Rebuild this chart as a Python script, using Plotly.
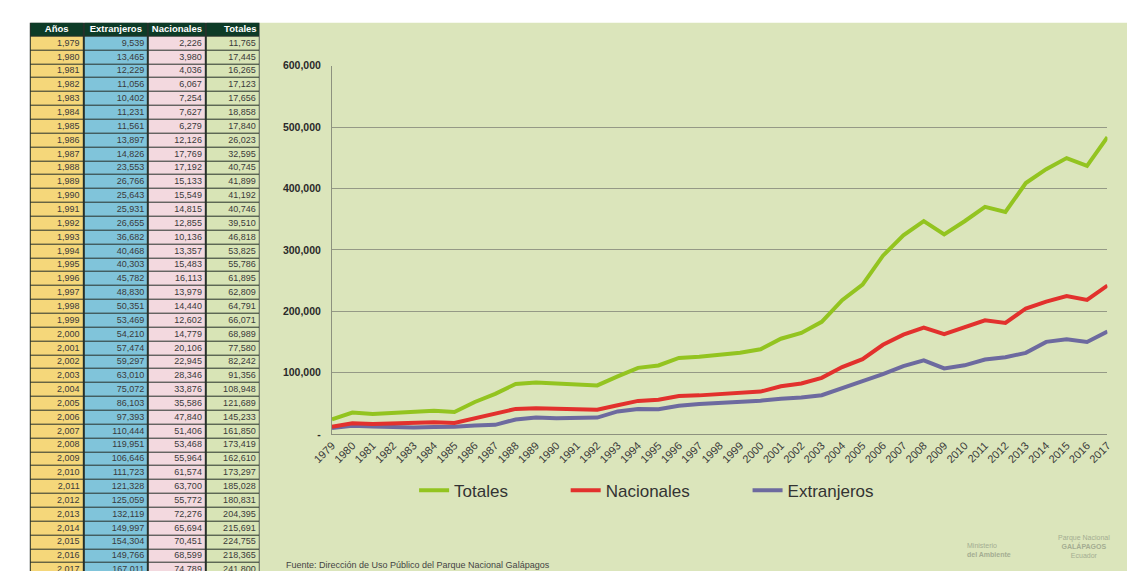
import plotly.graph_objects as go

years = list(range(1979, 2018))
extranjeros = [9539, 13465, 12229, 11056, 10402, 11231, 11561, 13897, 14826, 23553,
               26766, 25643, 25931, 26655, 36682, 40468, 40303, 45782, 48830, 50351,
               53469, 54210, 57474, 59297, 63010, 75072, 86103, 97393, 110444, 119951,
               106646, 111723, 121328, 125059, 132119, 149997, 154304, 149766, 167011]
nacionales = [2226, 3980, 4036, 6067, 7254, 7627, 6279, 12126, 17769, 17192,
              15133, 15549, 14815, 12855, 10136, 13357, 15483, 16113, 13979, 14440,
              12602, 14779, 20106, 22945, 28346, 33876, 35586, 47840, 51406, 53468,
              55964, 61574, 63700, 55772, 72276, 65694, 70451, 68599, 74789]
totales = [11765, 17445, 16265, 17123, 17656, 18858, 17840, 26023, 32595, 40745,
           41899, 41192, 40746, 39510, 46818, 53825, 55786, 61895, 62809, 64791,
           66071, 68989, 77580, 82242, 91356, 108948, 121689, 145233, 161850, 173419,
           162610, 173297, 185028, 180831, 204395, 215691, 224755, 218365, 241800]
headers = ["Años", "Extranjeros", "Nacionales", "Totales"]
y_ticks = [0, 100000, 200000, 300000, 400000, 500000, 600000]
y_ticktext = ["-", "100,000", "200,000", "300,000", "400,000", "500,000", "600,000"]

W, H = 1132, 577
FONT = "Liberation Sans, Arial, Helvetica, sans-serif"
BG = "#dbe5bb"

def px(x):
    return x / W

def py(y):  # y measured from top
    return (H - y) / H

fig = go.Figure()

# ---------- table (heatmap cells + text) on its own axes ----------
col_edges = [0, 55, 121, 180, 235]          # px widths of the four columns
table_top, table_left, table_right = 17, 10, 245
row_h = 14.15
n = len(years)
nrows = n + 1
header_code = len(headers)
zrows = [[header_code] * len(headers)] + [list(range(len(headers))) for _ in years]
row_edges = list(range(nrows + 1))
cell_colors = ["#f5d77a", "#80c4da", "#f3d9df", "#d8e4b6", "#0d3b27"]
cscale = []
for i, c in enumerate(cell_colors):
    cscale.append([i / len(cell_colors), c])
    cscale.append([(i + 1) / len(cell_colors), c])

fig.add_trace(go.Heatmap(
    z=zrows, x=col_edges, y=row_edges, colorscale=cscale, zmin=0, zmax=len(cell_colors),
    showscale=False, xgap=2, ygap=1, hoverinfo="skip", xaxis="x2", yaxis="y2",
))

# header text (first three centred, last right aligned)
centers = [(col_edges[i] + col_edges[i + 1]) / 2 for i in range(len(headers) - 1)]
fig.add_trace(go.Scatter(
    x=centers, y=[0.5] * (len(headers) - 1), text=["<b>%s</b>" % h for h in headers[:-1]],
    mode="text", textposition="middle center", showlegend=False, hoverinfo="skip",
    textfont=dict(color="white", size=9.5, family=FONT), xaxis="x2", yaxis="y2",
))
fig.add_trace(go.Scatter(
    x=[col_edges[-1] - 3], y=[0.5], text=["<b>%s</b>" % headers[-1]],
    mode="text", textposition="middle left", showlegend=False, hoverinfo="skip",
    textfont=dict(color="white", size=9.5, family=FONT), xaxis="x2", yaxis="y2",
))
# body text (right aligned)
rows_y = [i + 1.5 for i in range(n)]
for ci, col in enumerate([years, extranjeros, nacionales, totales]):
    fig.add_trace(go.Scatter(
        x=[col_edges[ci + 1] - 4] * n, y=rows_y, text=[f"{v:,}" for v in col],
        mode="text", textposition="middle left", showlegend=False, hoverinfo="skip",
        textfont=dict(color="#3a3a3a", size=9, family=FONT), xaxis="x2", yaxis="y2",
    ))

# ---------- line chart ----------
xcat = [str(y) for y in years]
fig.add_trace(go.Scatter(x=xcat, y=extranjeros, name="Extranjeros", stackgroup="s", fill="none",
                         mode="lines", line=dict(color="#6d6a9f", width=4), legend="legend3"))
fig.add_trace(go.Scatter(x=xcat, y=nacionales, name="Nacionales", stackgroup="s", fill="none",
                         mode="lines", line=dict(color="#e2312d", width=4), legend="legend2"))
fig.add_trace(go.Scatter(x=xcat, y=totales, name="Totales", stackgroup="s", fill="none",
                         mode="lines", line=dict(color="#93c420", width=4), legend="legend"))

def leg(text_x):
    return dict(orientation="h", x=px(text_x - 40), xanchor="left", y=py(495), yanchor="middle",
                font=dict(size=17, color="#333333", family=FONT), bgcolor="rgba(0,0,0,0)")

table_rows_visible = (H - table_top) / row_h

fig.update_layout(
    width=W, height=H,
    margin=dict(l=0, r=0, t=0, b=0),
    paper_bgcolor="white",
    plot_bgcolor="rgba(0,0,0,0)",
    font=dict(family=FONT, color="#333333"),
    showlegend=True,
    legend=leg(443), legend2=leg(598), legend3=leg(784),
    xaxis=dict(
        domain=[px(319), px(1112)], type="category",
        tickangle=-45, tickfont=dict(size=11, color="#3a3a3a"),
        showline=True, linecolor="#8d917f", linewidth=1,
        showgrid=False, ticks="",
    ),
    yaxis=dict(
        domain=[py(437), py(61)], range=[0, 600000],
        tickvals=y_ticks, ticktext=y_ticktext,
        tickfont=dict(size=10.5, color="#2a2a2a", family="Liberation Sans, Arial", weight="bold"),
        showgrid=True, gridcolor="#959986", gridwidth=1,
        showline=True, linecolor="#8d917f", linewidth=1,
        zeroline=False, ticks="", ticklabelstandoff=8,
    ),
    xaxis2=dict(domain=[px(table_left), px(table_right)], range=[0, col_edges[-1]],
                visible=False, fixedrange=True, anchor="y2"),
    yaxis2=dict(domain=[0, py(table_top)], range=[table_rows_visible, 0],
                visible=False, fixedrange=True, anchor="x2"),
    shapes=[
        dict(type="rect", xref="paper", yref="paper", x0=px(table_right), x1=1, y0=0, y1=py(table_top),
             fillcolor=BG, line=dict(width=0), layer="below"),
        dict(type="rect", xref="paper", yref="paper", x0=px(table_left), x1=px(table_right),
             y0=0, y1=py(table_top), fillcolor="#26302a", line=dict(width=0), layer="below"),
    ],
    annotations=[
        dict(text="Fuente: Dirección de Uso Público del Parque Nacional Galápagos",
             xref="paper", yref="paper", x=px(270), y=py(571), xanchor="left", yanchor="middle",
             showarrow=False, font=dict(size=9, color="#444444", family=FONT)),
        dict(text="Ministerio<br><b>del Ambiente</b>", xref="paper", yref="paper",
             x=px(966), y=py(556), xanchor="left", yanchor="middle", align="left",
             showarrow=False, font=dict(size=7, color="#a4ad92", family=FONT)),
        dict(text="Parque Nacional<br><b>GALÁPAGOS</b><br>Ecuador", xref="paper", yref="paper",
             x=px(1088), y=py(552), xanchor="center", yanchor="middle", align="center",
             showarrow=False, font=dict(size=7, color="#a4ad92", family=FONT)),
    ],
)

fig.write_html("out.html")
